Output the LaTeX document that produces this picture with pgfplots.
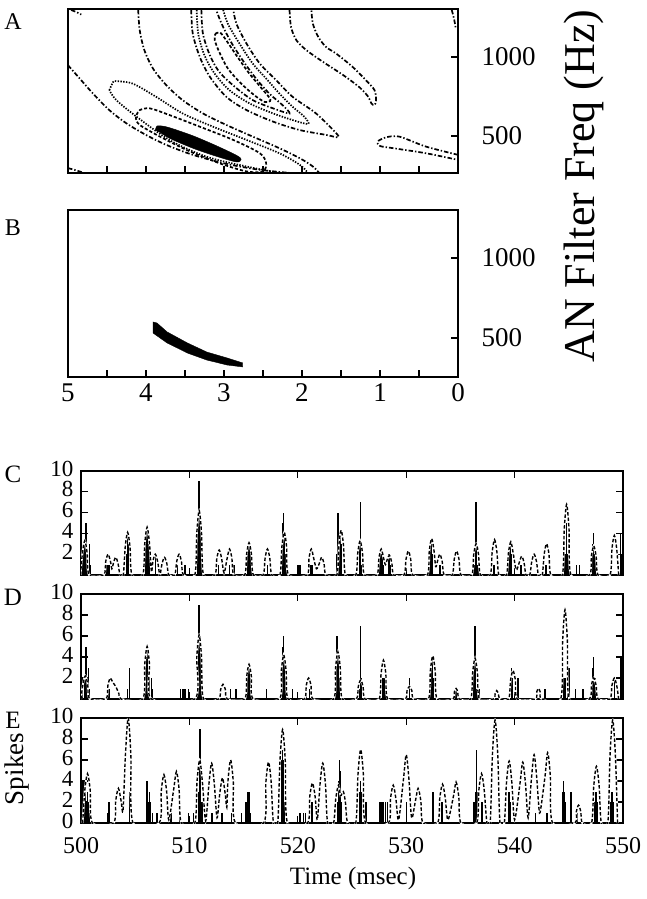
\documentclass[border=0pt]{standalone}
\usepackage{fontspec}
\setmainfont{Liberation Serif}
\usepackage{pgfplots}
\usepackage{pgfplotstable}
\pgfplotsset{compat=1.18}

\pgfplotstableread[row sep=\\]{t v\\
499.95 0\\ 500.13 2.1\\ 500.35 3.3\\ 500.57 2.1\\ 500.75 0\\
502.1 0\\ 502.28 1.3\\ 502.5 2.0\\ 502.72 1.3\\ 502.85 0.6\\ 502.98 1.1\\ 503.2 1.7\\ 503.42 1.1\\ 503.6 0\\
503.9 0\\ 504.08 2.7\\ 504.3 4.1\\ 504.52 2.7\\ 504.7 0\\
505.7 0\\ 505.88 3.0\\ 506.1 4.6\\ 506.32 3.0\\ 506.5 0.3\\ 506.63 1.3\\ 506.85 2.0\\ 507.07 1.3\\ 507.25 0\\
507.3 0\\ 507.48 1.1\\ 507.7 1.7\\ 507.92 1.1\\ 508.1 0\\
508.65 0\\ 508.83 1.3\\ 509.05 2.0\\ 509.27 1.3\\ 509.45 0\\
510.5 0\\ 510.68 4.0\\ 510.9 6.2\\ 511.12 4.0\\ 511.3 0\\
512.35 0\\ 512.53 1.6\\ 512.75 2.4\\ 512.97 1.6\\ 513.2 0.2\\ 513.48 1.6\\ 513.7 2.5\\ 513.92 1.6\\ 514.1 0\\
515.1 0\\ 515.28 2.0\\ 515.5 3.1\\ 515.72 2.0\\ 515.9 0\\
516.8 0\\ 516.98 1.6\\ 517.2 2.5\\ 517.42 1.6\\ 517.6 0\\
518.35 0\\ 518.53 2.7\\ 518.75 4.1\\ 518.97 2.7\\ 519.15 0\\
520.85 0\\ 521.03 1.6\\ 521.25 2.5\\ 521.47 1.6\\ 521.72 0.6\\ 521.98 1.1\\ 522.2 1.7\\ 522.42 1.1\\ 522.6 0\\
523.6 0\\ 523.78 2.8\\ 524.0 4.3\\ 524.22 2.8\\ 524.4 0\\
525.35 0\\ 525.53 2.1\\ 525.75 3.3\\ 525.97 2.1\\ 526.15 0\\
527.3 0\\ 527.48 1.6\\ 527.7 2.5\\ 527.92 1.6\\ 528.08 1.0\\ 528.25 1.5\\ 528.45 1.9\\ 528.67 1.2\\ 528.85 0\\
529.8 0\\ 529.98 1.5\\ 530.2 2.3\\ 530.42 1.5\\ 530.6 0\\
531.95 0\\ 532.13 2.3\\ 532.35 3.5\\ 532.57 2.3\\ 532.72 0.8\\ 532.88 1.3\\ 533.1 2.0\\ 533.32 1.3\\ 533.5 0\\
534.25 0\\ 534.43 1.5\\ 534.65 2.3\\ 534.87 1.5\\ 535.05 0\\
536.05 0\\ 536.23 2.0\\ 536.45 3.0\\ 536.67 2.0\\ 536.85 0\\
537.75 0\\ 537.93 2.2\\ 538.15 3.4\\ 538.37 2.2\\ 538.55 0\\
539.25 0\\ 539.43 2.1\\ 539.65 3.2\\ 539.87 2.1\\ 540.15 0.5\\ 540.43 1.2\\ 540.65 1.8\\ 540.87 1.2\\ 541.05 0\\
541.4 0\\ 541.58 1.3\\ 541.8 2.0\\ 542.02 1.3\\ 542.2 0\\
542.55 0\\ 542.73 2.0\\ 542.95 3.0\\ 543.17 2.0\\ 543.35 0\\
544.4 0\\ 544.58 4.4\\ 544.8 6.8\\ 545.02 4.4\\ 545.2 0\\
546.9 0\\ 547.08 1.8\\ 547.3 2.8\\ 547.52 1.8\\ 547.7 0\\
548.8 0\\ 548.98 2.5\\ 549.2 3.8\\ 549.42 2.5\\ 549.6 0\\
}\humpC

\pgfplotstableread[row sep=\\]{t v\\
500.0 0\\ 500.18 1.4\\ 500.4 2.2\\ 500.62 1.4\\ 500.8 0\\
502.3 0\\ 502.48 1.3\\ 502.7 2.0\\ 502.92 1.6\\ 503.2 1.2\\ 503.5 0.5\\ 503.7 0\\
505.7 0\\ 505.88 3.3\\ 506.1 5.0\\ 506.32 3.3\\ 506.5 0\\
510.5 0\\ 510.68 4.0\\ 510.9 6.1\\ 511.12 4.0\\ 511.3 0\\
512.7 0\\ 512.88 0.9\\ 513.1 1.4\\ 513.32 0.9\\ 513.5 0\\
515.1 0\\ 515.28 2.1\\ 515.5 3.3\\ 515.72 2.1\\ 515.9 0\\
518.3 0\\ 518.48 2.7\\ 518.7 4.2\\ 518.92 2.7\\ 519.1 0\\
520.6 0\\ 520.78 1.3\\ 521.0 2.0\\ 521.22 1.3\\ 521.4 0\\
523.3 0\\ 523.48 2.9\\ 523.7 4.5\\ 523.92 2.9\\ 524.1 0\\
525.4 0\\ 525.58 1.2\\ 525.8 1.8\\ 526.02 1.2\\ 526.2 0\\
527.5 0\\ 527.68 2.4\\ 527.9 3.7\\ 528.12 2.4\\ 528.3 0\\
529.9 0\\ 530.08 0.8\\ 530.3 1.2\\ 530.52 0.8\\ 530.7 0\\
532.05 0\\ 532.23 2.7\\ 532.45 4.1\\ 532.67 2.7\\ 532.85 0\\
534.3 0\\ 534.45 0.7\\ 534.6 1.0\\ 534.75 0.7\\ 534.9 0\\
535.95 0\\ 536.13 2.5\\ 536.35 3.9\\ 536.57 2.5\\ 536.75 0\\
538.05 0\\ 538.2 0.5\\ 538.35 0.8\\ 538.5 0.5\\ 538.65 0\\
539.45 0\\ 539.63 1.8\\ 539.85 2.7\\ 540.07 1.8\\ 540.25 0\\
541.9 0\\ 542.05 0.7\\ 542.2 1.0\\ 542.35 0.7\\ 542.5 0\\
544.25 0\\ 544.43 5.5\\ 544.65 8.5\\ 544.87 5.5\\ 545.05 0\\
546.9 0\\ 547.08 1.3\\ 547.3 2.0\\ 547.52 1.3\\ 547.7 0\\
548.8 0\\ 548.98 1.3\\ 549.2 2.0\\ 549.42 1.3\\ 549.6 0\\
}\humpD

\pgfplotstableread[row sep=\\]{t v\\
500.15 0\\ 500.35 3.1\\ 500.6 4.7\\ 500.85 3.1\\ 501.05 0\\
503.0 0\\ 503.2 2.1\\ 503.45 3.3\\ 503.7 2.1\\ 503.88 1.2\\ 504.1 6.5\\ 504.35 10\\ 504.6 6.5\\ 504.8 0\\
507.2 0\\ 507.4 3.0\\ 507.65 4.6\\ 507.9 3.0\\ 508.1 0.3\\ 508.55 3.2\\ 508.8 4.9\\ 509.05 3.2\\ 509.25 0\\
510.5 0\\ 510.7 3.9\\ 510.95 6.0\\ 511.2 3.9\\ 511.5 0.2\\ 511.8 3.7\\ 512.05 5.7\\ 512.3 3.7\\ 512.55 0.5\\ 512.8 2.8\\ 513.05 4.3\\ 513.3 2.8\\ 513.45 1.5\\ 513.55 3.9\\ 513.8 6.0\\ 514.05 3.9\\ 514.25 0\\
516.85 0\\ 517.05 3.8\\ 517.3 5.8\\ 517.55 3.8\\ 517.75 0\\
518.15 0\\ 518.35 5.8\\ 518.6 8.9\\ 518.85 5.8\\ 519.05 0\\
520.9 0\\ 521.1 2.5\\ 521.35 3.8\\ 521.6 2.5\\ 521.8 0.3\\ 522.05 3.7\\ 522.3 5.7\\ 522.55 3.7\\ 522.75 0\\
523.3 0\\ 523.5 2.3\\ 523.75 3.6\\ 523.95 2.6\\ 524.2 3.0\\ 524.4 1.9\\ 524.6 0\\
525.35 0\\ 525.55 4.6\\ 525.8 7.0\\ 526.05 4.6\\ 526.25 0\\
528.35 0\\ 528.55 2.3\\ 528.8 3.6\\ 529.05 2.3\\ 529.3 0.3\\ 529.75 4.2\\ 530.0 6.5\\ 530.25 4.2\\ 530.5 0.5\\ 530.85 2.1\\ 531.1 3.3\\ 531.35 2.1\\ 531.55 0\\
532.9 0\\ 533.1 2.4\\ 533.35 3.7\\ 533.6 2.4\\ 533.85 0.3\\ 534.35 2.5\\ 534.6 3.9\\ 534.85 2.5\\ 535.05 0\\
536.5 0\\ 536.7 3.1\\ 536.95 4.7\\ 537.2 3.1\\ 537.45 0\\
537.75 0\\ 537.95 6.4\\ 538.2 9.8\\ 538.45 6.4\\ 538.65 0\\
539.05 0\\ 539.25 3.8\\ 539.5 5.9\\ 539.75 3.8\\ 540.0 0.3\\ 540.5 3.8\\ 540.75 5.8\\ 541.0 3.8\\ 541.25 0.5\\ 541.55 4.2\\ 541.8 6.5\\ 542.05 4.2\\ 542.2 2.0\\ 542.35 1.0\\ 542.8 4.4\\ 543.05 6.7\\ 543.3 4.4\\ 543.5 0\\
545.55 0\\ 545.7 1.1\\ 545.9 1.7\\ 546.1 1.1\\ 546.25 0\\
547.1 0\\ 547.3 3.5\\ 547.55 5.4\\ 547.8 3.5\\ 548.0 0\\
548.6 0\\ 548.8 6.4\\ 549.05 9.8\\ 549.3 6.4\\ 549.5 0\\
}\humpE

\pgfplotstableread[row sep=\\]{t c\\
500.05 6\\ 500.15 2\\ 500.25 3\\ 500.35 3\\ 500.45 5\\ 500.55 2\\ 500.8 3\\ 500.9 1\\ 502.4 1\\ 502.6 1\\ 504.2 2\\ 504.3 4\\ 504.4 3\\
506.0 3\\ 506.05 4\\ 506.1 4\\ 506.15 4\\ 506.2 3\\ 506.3 2\\ 506.85 2\\ 508.9 1\\ 509.6 1\\ 510.8 4\\ 510.85 6\\ 510.9 9\\ 510.95 5\\ 511.0 6\\ 511.1 3\\
512.7 1\\ 513.7 1\\ 514.1 1\\ 515.4 2\\ 515.45 3\\ 515.5 3\\ 515.55 3\\ 515.6 2\\ 515.7 1\\ 517.2 1\\ 518.6 3\\ 518.65 5\\ 518.7 6\\ 518.75 4\\ 518.8 4\\ 518.9 2\\
520.0 1\\ 520.2 1\\ 521.2 1\\ 521.3 1\\ 523.6 2\\ 523.7 6\\ 523.8 3\\ 523.9 4\\ 524.0 3\\ 525.7 2\\ 525.75 3\\ 525.8 7\\ 525.9 1\\
527.6 2\\ 527.7 2\\ 527.8 2\\ 527.9 1\\ 528.4 2\\ 528.5 1\\ 532.2 2\\ 532.3 3\\ 532.4 2\\ 533.1 1\\
536.2 1\\ 536.25 1\\ 536.3 1\\ 536.35 1\\ 536.4 1\\ 536.45 7\\ 536.5 1\\ 536.55 1\\ 536.6 1\\ 536.65 1\\ 536.7 1\\ 536.4 3\\ 538.1 1\\ 539.5 2\\ 539.55 3\\ 539.6 3\\ 539.7 2\\ 540.6 1\\
542.9 1\\ 544.6 2\\ 544.7 2\\ 544.8 5\\ 544.9 2\\ 545.0 3\\ 545.7 1\\ 546.0 1\\ 547.2 2\\ 547.25 3\\ 547.3 4\\ 547.4 2\\ 549.75 4\\ 549.9 2\\
}\barC

\pgfplotstableread[row sep=\\]{t c\\
500.05 6\\ 500.15 2\\ 500.3 2\\ 500.45 5\\ 500.55 2\\ 500.7 3\\ 500.8 1\\ 502.6 1\\ 504.3 1\\ 504.45 3\\
505.9 2\\ 506.0 3\\ 506.05 4\\ 506.1 4\\ 506.15 5\\ 506.2 2\\ 506.3 3\\ 506.5 2\\ 506.6 1\\ 509.2 1\\ 509.4 1\\ 509.6 1\\ 509.9 1\\
510.8 3\\ 510.85 6\\ 510.9 9\\ 510.95 5\\ 511.0 6\\ 511.1 2\\ 513.8 1\\ 514.3 1\\ 515.3 2\\ 515.4 3\\ 515.45 3\\ 515.5 3\\ 515.6 2\\ 515.7 1\\ 517.1 1\\
518.6 3\\ 518.65 5\\ 518.7 6\\ 518.75 4\\ 518.8 4\\ 518.9 2\\ 519.5 1\\ 520.8 1\\ 521.1 1\\ 523.5 2\\ 523.55 4\\ 523.6 6\\ 523.65 5\\ 523.7 4\\ 523.8 2\\
525.7 1\\ 525.8 7\\ 525.9 2\\ 527.8 2\\ 527.85 2\\ 527.9 2\\ 527.95 2\\ 528.0 2\\ 528.1 2\\ 530.3 2\\ 532.3 2\\ 532.35 3\\ 532.4 3\\ 532.45 4\\ 532.5 2\\ 534.6 1\\
536.2 1\\ 536.25 3\\ 536.3 3\\ 536.35 7\\ 536.4 4\\ 536.45 1\\ 536.5 1\\ 536.55 1\\ 536.6 1\\ 536.65 1\\ 536.7 1\\ 539.7 3\\ 539.75 2\\ 539.8 2\\ 540.3 2\\ 542.8 1\\
544.5 2\\ 544.6 2\\ 544.7 2\\ 544.9 3\\ 545.0 3\\ 545.6 1\\ 546.3 1\\ 547.2 2\\ 547.25 3\\ 547.3 4\\ 547.4 2\\ 549.2 2\\ 549.8 4\\
}\barD

\pgfplotstableread[row sep=\\]{t c\\
500.05 6\\ 500.1 4\\ 500.2 2\\ 500.25 4\\ 500.3 3\\ 500.35 4\\ 500.4 3\\ 500.5 2\\ 500.6 3\\ 500.7 2\\ 500.8 1\\ 502.5 1\\ 502.6 2\\ 504.45 3\\
506.1 4\\ 506.15 3\\ 506.2 2\\ 506.3 3\\ 506.4 2\\ 506.6 1\\ 507.0 1\\ 508.3 1\\ 509.1 1\\ 509.9 1\\ 510.4 1\\
510.9 3\\ 510.93 6\\ 510.98 9\\ 511.02 5\\ 511.05 6\\ 511.15 2\\ 512.1 1\\ 513.0 1\\ 513.9 1\\ 514.8 1\\ 515.2 2\\ 515.3 2\\ 515.4 3\\ 515.5 3\\ 515.6 1\\
517.0 1\\ 518.5 3\\ 518.55 6\\ 518.6 7\\ 518.65 6\\ 518.7 5\\ 518.8 2\\ 520.2 1\\ 520.5 1\\ 520.7 1\\ 521.3 2\\ 523.7 2\\ 523.78 4\\ 523.83 6\\ 523.88 5\\ 523.9 3\\ 524.0 2\\
525.7 2\\ 525.75 3\\ 525.8 4\\ 525.85 3\\ 526.3 2\\ 527.6 2\\ 527.75 2\\ 527.9 2\\ 528.1 2\\ 528.3 2\\ 530.0 2\\ 532.4 3\\ 532.5 3\\ 533.3 2\\
536.2 2\\ 536.3 2\\ 536.4 3\\ 536.45 3\\ 536.5 7\\ 536.55 3\\ 536.6 2\\ 537.0 2\\ 539.5 3\\ 539.55 3\\ 539.6 2\\ 541.9 1\\ 543.0 1\\
544.45 3\\ 544.5 4\\ 544.55 3\\ 544.6 2\\ 544.7 2\\ 545.2 3\\ 545.8 1\\ 547.4 2\\ 547.45 3\\ 547.5 3\\ 547.6 2\\ 548.9 2\\ 549.0 3\\ 549.1 2\\
}\barE

\newcommand{\bigtick}{\fontsize{27}{27}\selectfont}
\newcommand{\midtick}{\fontsize{23}{23}\selectfont}
\newcommand{\xtickfont}{\fontsize{24}{24}\selectfont}

\pgfplotsset{
  every axis/.append style={
    scale only axis, anchor=north west,
    axis line style={line width=1.3pt},
    tick style={line width=1.2pt, black},
    tick align=inside, major tick length=7pt, minor tick length=7pt,
    /pgf/number format/assume math mode=true,
    /pgf/number format/1000 sep={},
  },
  dd/.style={black, line width=1.7pt, dash pattern=on 4.5pt off 2pt on 1.4pt off 2pt, no markers, smooth, tension=0.5},
  dt/.style={black, line width=1.7pt, dash pattern=on 1.4pt off 1.4pt, no markers, smooth, tension=0.5},
  ds/.style={black, line width=1.7pt, dash pattern=on 3.2pt off 2pt, no markers, smooth, tension=0.5},
  spk/.style={ycomb, black, line width=1.4pt, no markers},
  rateW/.style={white, line width=2pt, smooth, tension=0.5, no markers},
  rateK/.style={black, line width=1.4pt, dash pattern=on 3.4pt off 2pt, smooth, tension=0.5, no markers},
  freqaxis/.style={width=390pt, x dir=reverse, xmin=0, xmax=5,
    xtick={0,...,5}, minor xtick={0.5,1.5,2.5,3.5,4.5}, xtick pos=left,
    ytick={500,1000}, ytick pos=right, yticklabel pos=right,
    tick label style={font=\bigtick},
    yticklabel={\bigtick\pgfmathprintnumber{\tick}},
    yticklabel style={anchor=west, xshift=20pt}},
  spikeaxis/.style={width=542pt, xmin=500, xmax=550, ymin=0, ymax=10,
    xtick={500,510,...,550}, ytick={2,4,6,8,10},
    tick label style={font=\midtick},
    yticklabel={\midtick\pgfmathprintnumber{\tick}},
    yticklabel style={xshift=-4pt, inner ysep=0pt, text height=10pt, text depth=0pt}},
}

\begin{document}
\begin{tikzpicture}
\path[use as bounding box] (0pt,0pt) rectangle (647pt,-899pt);

% ---------- Panel A ----------
\begin{axis}[freqaxis, at={(68pt,-9pt)}, height=164pt, ymin=266, ymax=1304, xticklabels={}]
\addplot[dd] coordinates {(4.96,1298)(4.89,1284)(4.83,1269)};
\addplot[dd] coordinates {(5.00,297)(4.89,282)(4.79,265)};
\addplot[dd] coordinates {(5.00,948)(4.85,864)(4.68,769)(4.47,664)(4.25,580)(4.00,507)(3.74,444)(3.40,381)(2.97,324)(2.54,286)(2.12,265)};
\addplot[dd] coordinates {(4.10,1298)(4.08,1168)(4.02,1042)(3.91,927)(3.74,822)(3.53,727)(3.27,643)(2.97,570)(2.63,496)(2.29,423)(2.03,360)(1.86,307)(1.77,261)};
\addplot[dt] coordinates {(4.47,790)(4.42,843)(4.38,847)(4.17,832)(3.87,748)(3.53,643)(3.14,559)(2.71,475)(2.29,391)(2.03,318)(1.94,265)(2.20,261)(2.71,307)(3.23,370)(3.70,475)(4.12,622)(4.38,727)(4.47,790)};
\addplot[ds] coordinates {(4.12,633)(4.08,664)(3.95,675)(3.70,633)(3.31,559)(2.88,475)(2.54,391)(2.46,328)(2.50,276)(2.71,276)(3.06,328)(3.48,412)(3.82,496)(4.08,570)(4.13,612)(4.12,633)};
\addplot[black, fill=black, smooth, tension=0.5] coordinates {(3.86,563)(3.82,565)(3.70,553)(3.40,502)(3.10,439)(2.84,378)(2.78,353)(2.84,336)(3.10,372)(3.40,423)(3.70,486)(3.82,523)(3.88,538)(3.86,563)} -- cycle;
\addplot[dd] coordinates {(3.42,1298)(3.40,1147)(3.31,1000)(3.18,874)(2.97,748)(2.71,664)(2.37,591)(2.03,538)(1.69,507)(1.54,492)(1.56,517)(1.82,643)(2.12,748)(2.33,853)(2.54,958)(2.71,1084)(2.84,1210)(2.88,1298)};
\addplot[dt] coordinates {(3.35,1298)(3.33,1147)(3.25,1010)(3.12,895)(2.93,790)(2.67,706)(2.37,643)(2.12,601)(1.92,576)(1.97,622)(2.12,685)(2.29,769)(2.44,853)(2.63,958)(2.80,1084)(2.95,1210)(3.01,1298)};
\addplot[dd] coordinates {(3.29,1298)(3.27,1147)(3.18,1010)(3.06,906)(2.86,811)(2.63,727)(2.37,675)(2.16,643)(2.25,696)(2.42,769)(2.59,864)(2.76,979)(2.91,1095)(3.03,1210)(3.10,1298)};
\addplot[ds] coordinates {(3.11,1147)(3.05,1155)(2.97,1105)(2.84,1010)(2.69,905)(2.54,815)(2.42,744)(2.41,721)(2.48,716)(2.61,758)(2.78,832)(2.95,927)(3.06,1031)(3.12,1109)(3.11,1147)};
\addplot[dd] coordinates {(2.16,1298)(2.14,1189)(2.07,1105)(1.94,1042)(1.73,969)(1.47,885)(1.26,807)(1.15,748)(1.11,706)(1.07,696)(1.05,727)(1.07,790)(1.18,853)(1.35,937)(1.56,1021)(1.69,1063)(1.79,1126)(1.86,1210)(1.88,1298)};
\addplot[dd] coordinates {(0.00,381)(0.41,433)(0.75,496)(0.92,492)(1.03,465)(1.00,437)(0.83,423)(0.41,391)(0.00,349)};
\addplot[dd] coordinates {(0.08,1298)(0.05,1240)(0.03,1184)};
\end{axis}

% ---------- Panel B ----------
\begin{axis}[freqaxis, at={(68pt,-210pt)}, height=167pt, ymin=256, ymax=1300,
  xticklabel={\bigtick\pgfmathprintnumber{\tick}},
  xticklabel style={yshift=-3pt}]
\addplot[black, fill=black, sharp plot] coordinates {(3.91,600)(3.86,594)(3.73,538)(3.47,469)(3.22,412)(2.96,375)(2.76,344)(2.76,319)(2.96,331)(3.22,362)(3.47,406)(3.73,469)(3.91,531)(3.91,600)} -- cycle;
\end{axis}

% ---------- Panel C ----------
\begin{axis}[spikeaxis, at={(81pt,-471pt)}, height=104pt, xticklabels={}]
\addplot[spk] table[x=t, y=c] {\barC};
\addplot[rateW] table[x=t, y=v] {\humpC};
\addplot[rateK] table[x=t, y=v] {\humpC};
\end{axis}

% ---------- Panel D ----------
\begin{axis}[spikeaxis, at={(81pt,-594pt)}, height=105pt, xticklabels={}]
\addplot[spk] table[x=t, y=c] {\barD};
\addplot[rateW] table[x=t, y=v] {\humpD};
\addplot[rateK] table[x=t, y=v] {\humpD};
\end{axis}

% ---------- Panel E ----------
\begin{axis}[spikeaxis, at={(81pt,-718pt)}, height=105pt, ytick={0,2,4,6,8,10},
  xticklabel={\xtickfont\pgfmathprintnumber{\tick}},
  xticklabel style={yshift=-11pt}]
\addplot[spk] table[x=t, y=c] {\barE};
\addplot[rateW] table[x=t, y=v] {\humpE};
\addplot[rateK] table[x=t, y=v] {\humpE};
\end{axis}

% ---------- labels ----------
\node[font=\fontsize{24}{24}\selectfont, inner sep=0pt] at (13pt,-22pt) {A};
\node[font=\fontsize{24}{24}\selectfont, inner sep=0pt] at (13pt,-228pt) {B};
\node[font=\fontsize{25}{25}\selectfont, inner sep=0pt] at (13pt,-474pt) {C};
\node[font=\fontsize{25}{25}\selectfont, inner sep=0pt] at (13pt,-597pt) {D};
\node[font=\fontsize{25}{25}\selectfont, inner sep=0pt] at (13pt,-720pt) {E};
\node[font=\fontsize{44}{44}\selectfont, inner sep=0pt, rotate=90] at (584pt,-186pt) {AN Filter Freq (Hz)};
\node[font=\fontsize{27}{27}\selectfont, inner sep=0pt, rotate=90] at (17pt,-769pt) {Spikes};
\node[font=\fontsize{25}{25}\selectfont, inner sep=0pt] at (353pt,-878pt) {Time (msec)};
\end{tikzpicture}
\end{document}
